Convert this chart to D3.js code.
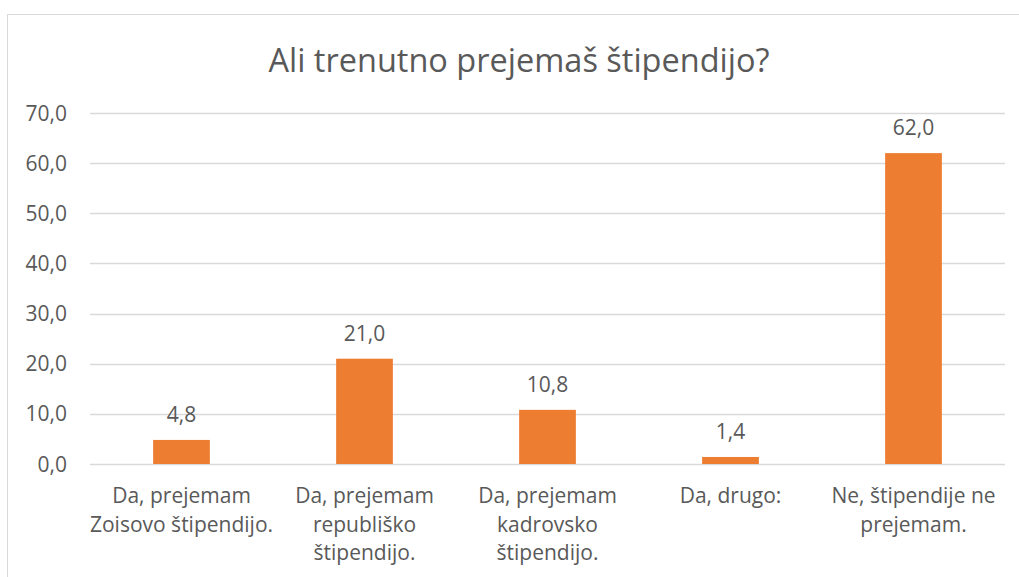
<!DOCTYPE html>
<html lang="sl">
<head>
    <meta charset="UTF-8">
    <title>Ali trenutno prejemaš štipendijo?</title>
    <script src="https://d3js.org/d3.v7.min.js"></script>
    <style>
        body {
            margin: 0;
            overflow: hidden;
            background: #fff;
            font-family: "Open Sans", "Noto Sans", sans-serif;
        }
        .tick-label, .cat-label, .value-label {
            fill: #595959;
            font-size: 21px;
        }
        .chart-title {
            fill: #595959;
            font-size: 32.5px;
        }
    </style>
</head>
<body>
<svg id="chart"></svg>
<script>
    // Podatki
    const categories = [
        "Da, prejemam Zoisovo štipendijo.",
        "Da, prejemam republiško štipendijo.",
        "Da, prejemam kadrovsko štipendijo.",
        "Da, drugo:",
        "Ne, štipendije ne prejemam."
    ];
    // vrstice oznak kategorij (kot v izvirniku)
    const categoryLines = [
        ["Da, prejemam", "Zoisovo štipendijo."],
        ["Da, prejemam", "republiško", "štipendijo."],
        ["Da, prejemam", "kadrovsko", "štipendijo."],
        ["Da, drugo:"],
        ["Ne, štipendije ne", "prejemam."]
    ];
    const values = [4.8, 21.0, 10.8, 1.4, 62.0];
    const yTicks = [0, 10, 20, 30, 40, 50, 60, 70];
    const title = "Ali trenutno prejemaš štipendijo?";

    const width = 1019;
    const height = 577;
    const plot = { left: 90, right: 1005, top: 113, bottom: 464 };

    const fmt = v => d3.format(".1f")(v).replace(".", ",");

    const svg = d3.select("#chart")
        .attr("width", width)
        .attr("height", height);

    // okvir grafikona
    svg.append("rect")
        .attr("x", 7.5)
        .attr("y", 14.5)
        .attr("width", 1100)
        .attr("height", 1000)
        .attr("fill", "#fff")
        .attr("stroke", "#d9d9d9")
        .attr("stroke-width", 1);

    const x = d3.scaleBand()
        .domain(categories)
        .range([plot.left, plot.right])
        .paddingInner(0.69)
        .paddingOuter(0.345);

    const y = d3.scaleLinear()
        .domain([0, 70])
        .range([plot.bottom, plot.top]);

    // mreža
    svg.append("g")
        .selectAll("line")
        .data(yTicks)
        .join("line")
        .attr("x1", plot.left)
        .attr("x2", plot.right)
        .attr("y1", d => Math.round(y(d)) + 0.5)
        .attr("y2", d => Math.round(y(d)) + 0.5)
        .attr("stroke", "#d9d9d9")
        .attr("stroke-width", 1.3);

    // oznake osi y
    svg.append("g")
        .selectAll("text")
        .data(yTicks)
        .join("text")
        .attr("class", "tick-label")
        .attr("x", 67)
        .attr("y", d => y(d))
        .attr("dy", "0.36em")
        .attr("text-anchor", "end")
        .text(d => fmt(d));

    // stolpci
    svg.append("g")
        .selectAll("rect")
        .data(values)
        .join("rect")
        .attr("x", (d, i) => x(categories[i]))
        .attr("y", d => y(d))
        .attr("width", x.bandwidth())
        .attr("height", d => y(0) - y(d))
        .attr("fill", "#ed7d31");

    // vrednosti nad stolpci
    svg.append("g")
        .selectAll("text")
        .data(values)
        .join("text")
        .attr("class", "value-label")
        .attr("x", (d, i) => x(categories[i]) + x.bandwidth() / 2)
        .attr("y", d => y(d) - 18)
        .attr("text-anchor", "middle")
        .text(d => fmt(d));

    // oznake kategorij
    const cat = svg.append("g")
        .selectAll("text")
        .data(categories)
        .join("text")
        .attr("class", "cat-label")
        .attr("text-anchor", "middle")
        .attr("x", d => x(d) + x.bandwidth() / 2)
        .attr("y", 503);

    cat.selectAll("tspan")
        .data((d, i) => categoryLines[i])
        .join("tspan")
        .attr("x", function () { return this.parentNode.getAttribute("x"); })
        .attr("dy", (d, i) => i === 0 ? 0 : 28.5)
        .text(d => d);

    // naslov
    svg.append("text")
        .attr("class", "chart-title")
        .attr("x", 519)
        .attr("y", 72)
        .attr("text-anchor", "middle")
        .text(title);
</script>
</body>
</html>
